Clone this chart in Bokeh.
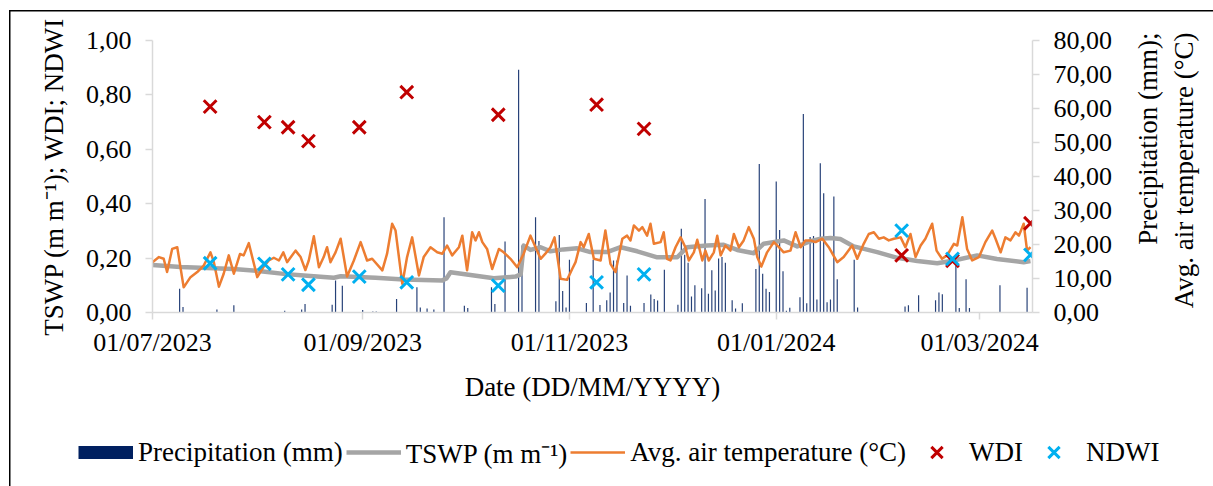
import datetime as dt
from bokeh.plotting import figure
from bokeh.layouts import column, row
from bokeh.models import (Range1d, LinearAxis, FixedTicker, CustomJSTickFormatter,
                          DatetimeTickFormatter, Legend, LegendItem, Label)
from bokeh.embed import file_html
from bokeh.resources import INLINE

START = dt.datetime(2023, 7, 1)

# ---------------- data (day offsets from 01/07/2023) ----------------
x_tick_labels = ["01/07/2023", "01/09/2023", "01/11/2023", "01/01/2024", "01/03/2024"]
left_ticks = [0.0, 0.2, 0.4, 0.6, 0.8, 1.0]
right_ticks = [0, 10, 20, 30, 40, 50, 60, 70, 80]

precip_day = [8, 9, 19, 24, 39, 44, 45, 53, 54, 56, 62, 65, 66, 72, 78, 79, 81, 83, 86,
              92, 93, 100, 101, 104, 108, 109, 113, 114, 119, 120, 121, 122, 123, 128,
              130, 132, 134, 135, 136, 137, 139, 140, 141, 145, 147, 148, 149, 151, 155,
              156, 157, 158, 159, 160, 162, 163, 164, 165, 166, 167, 168, 169, 171, 172,
              174, 178, 179, 180, 181, 182, 184, 185, 186, 187, 188, 191, 192, 193, 194,
              195, 196, 197, 198, 199, 200, 201, 202, 207, 208, 222, 223, 226, 231, 232,
              233, 237, 238, 240, 241, 250, 258]
precip_mm = [7.0, 1.6, 0.9, 2.1, 0.5, 0.9, 2.5, 2.3, 9.4, 7.9, 0.7, 0.3, 0.3, 4.0, 7.4,
             1.5, 1.2, 0.9, 28.0, 2.0, 1.3, 7.4, 2.5, 20.9, 71.4, 19.7, 28.0, 21.0, 3.3,
             22.8, 6.3, 1.5, 15.5, 2.8, 15.5, 2.2, 3.6, 5.9, 15.3, 15.3, 2.8, 10.9, 2.0,
             2.8, 5.3, 4.0, 3.5, 12.6, 2.3, 24.6, 17.0, 14.6, 4.7, 8.0, 7.1, 33.4, 5.5,
             12.4, 6.5, 15.9, 16.3, 14.6, 3.6, 1.2, 2.7, 12.8, 43.7, 11.4, 7.0, 6.0, 38.5,
             24.3, 12.1, 0.5, 1.4, 4.5, 58.4, 2.7, 22.2, 22.5, 3.8, 43.9, 35.1, 3.0, 3.8,
             34.1, 9.8, 15.5, 1.5, 1.8, 2.1, 5.1, 3.6, 5.9, 5.4, 13.8, 1.3, 9.8, 1.3, 8.0, 7.3]

temp_day = [0.0, 1.9, 3.3, 4.3, 5.8, 7.3, 9.2, 11.2, 13.2, 15.1, 17.1, 18.1, 19.6, 21.0,
            22.5, 24.0, 25.8, 26.9, 28.4, 30.9, 32.8, 34.3, 35.8, 37.3, 38.6, 39.7, 42.2,
            43.7, 45.1, 46.1, 47.6, 49.1, 50.5, 51.5, 52.5, 54.0, 55.5, 57.4, 59.4, 61.4,
            63.3, 64.8,
            67.8, 69.2, 70.7, 71.7, 73.7, 75.1, 76.6, 78.6, 80.0, 82.0, 84.0, 85.5, 86.9,
            88.4, 90.4, 91.4, 92.8, 94.3, 95.3, 96.3, 97.3, 98.7, 100.2, 102.2, 103.6,
            105.6, 107.6, 109.5, 111.5, 113.0, 114.5, 115.9, 117.4, 118.6, 120.4, 122.3,
            123.8, 124.8, 126.3, 127.2, 128.7, 130.2,
            132.2, 133.6, 135.1, 136.6, 138.6, 140.0, 141.0, 142.0, 143.5, 144.5, 145.9,
            146.9, 147.9, 149.9, 150.8, 151.8, 152.8, 154.3, 155.8, 157.2, 158.2, 159.7,
            160.7, 162.2, 163.1, 164.1, 165.6, 166.6, 167.6, 169.0, 170.5, 171.5, 173.0,
            174.4, 175.9, 177.4, 178.4, 179.6, 181.3, 183.3, 184.8, 186.2, 188.2, 189.7,
            191.2, 192.6,
            194.1, 195.6, 197.6, 199.5, 202.0, 203.9, 206.4, 207.9, 209.8, 211.3, 212.8,
            214.3, 215.7, 217.2, 218.7, 220.7, 222.1, 223.6, 225.1, 226.6, 228.0, 230.0,
            231.3, 232.9, 234.4, 236.4, 237.4, 238.9, 240.3, 241.8, 243.8, 245.7, 247.7,
            248.7, 250.2, 251.6, 253.1, 254.6, 255.6, 257.0, 258.0, 259.0]
temp_c = [14.8, 16.3, 15.8, 11.9, 18.7, 19.2, 7.4, 10.4, 11.9, 13.8, 17.7, 14.8, 7.6, 11.4,
          16.8, 11.4, 17.2, 16.8, 20.4, 10.4, 13.5, 15.3, 16.1, 15.3, 17.7, 14.8, 18.2,
          16.3, 12.5, 15.3, 22.4, 13.3, 16.3, 19.2, 14.8, 17.7, 21.7, 10.6, 15.3, 20.7,
          15.3, 15.8,
          12.4, 17.3, 26.1, 24.1, 8.4, 16.3, 22.1, 10.9, 16.3, 19.2, 17.7, 17.3, 19.7,
          16.8, 19.2, 22.6, 12.4, 23.6, 21.2, 23.6, 20.7, 18.7, 12.8, 18.7, 17.7, 15.8,
          13.3, 17.3, 22.6, 19.2, 15.8, 17.3, 19.2, 22.1, 9.9, 9.6, 12.8, 14.8, 20.7,
          19.2, 23.1, 15.8,
          15.3, 24.1, 14.3, 11.9, 21.7, 22.6, 21.2, 25.6, 24.1, 25.1, 22.6, 26.1, 20.2,
          20.7, 23.6, 15.8, 15.3, 19.2, 22.1, 19.2, 15.3, 17.7, 21.4, 15.3, 18.2, 15.3,
          17.7, 22.6, 16.8, 19.7, 18.2, 23.1, 19.2, 21.2, 25.1, 21.7, 16.3, 13.5, 17.7,
          20.7, 19.2, 17.7, 18.2, 23.6, 19.2, 21.2,
          21.2, 20.7, 21.7, 19.2, 14.8, 16.3, 19.7, 15.8, 20.2, 23.1, 23.6, 21.7, 22.1,
          21.2, 21.7, 22.1, 19.2, 23.1, 16.3, 19.7, 21.7, 26.1, 18.2, 15.8, 16.8, 20.2,
          19.7, 28.0, 18.7, 15.3, 16.3, 20.7, 24.1, 21.7, 17.7, 22.1, 21.2, 23.6, 22.6,
          26.1, 18.2, 19.2]

tswp_day = [0, 8.3, 16.1, 23.9, 31.9, 38.7, 45.6, 53.5, 55.5, 62.3, 65.8, 74.1, 85.5,
            86.7, 87.9, 93.8, 100.7, 107.1, 108.6, 109.5, 111.5, 114.5, 117.4, 121.2,
            125.3, 129.2, 134.1, 138.1, 143.0, 148.9, 154.8, 157.7, 163.6, 168.5, 172.5,
            177.4, 180.3, 186.2, 190.2, 194.1, 197.1, 200.0, 202.9, 206.9, 213.8, 219.7,
            225.6, 231.5, 236.4, 243.3, 249.1, 257.0, 259.0]
tswp_val = [0.175, 0.167, 0.164, 0.160, 0.152, 0.142, 0.135, 0.128, 0.133, 0.130, 0.128,
            0.121, 0.118, 0.125, 0.148, 0.138, 0.126, 0.132, 0.140, 0.246, 0.230, 0.240,
            0.225, 0.232, 0.236, 0.222, 0.222, 0.240, 0.225, 0.203, 0.203, 0.240, 0.246,
            0.249, 0.230, 0.218, 0.253, 0.265, 0.243, 0.262, 0.271, 0.274, 0.270, 0.243,
            0.222, 0.201, 0.189, 0.181, 0.191, 0.210, 0.197, 0.185, 0.189]

obs_day = [17, 33, 40, 46, 61, 75, 102, 131, 145, 221, 236, 259]
wdi_val = [0.757, 0.700, 0.681, 0.630, 0.681, 0.810, 0.727, 0.764, 0.675, 0.210, 0.190, 0.328]
ndwi_val = [0.181, 0.179, 0.140, 0.102, 0.132, 0.111, 0.099, 0.111, 0.140, 0.301, 0.197, 0.212]

legend_labels = ["Precipitation (mm)", "TSWP (m m\u207b\u00b9)",
                 "Avg. air temperature (\u00b0C)", "WDI", "NDWI"]
right_title = "Precipitation (mm);\nAvg. air temperature (\u00b0C)"


def to_dt(days):
    return [START + dt.timedelta(days=float(d)) for d in days]


FONT = "Liberation Serif"
NAVY, GRAY, ORANGE, RED, CYAN = "#002060", "#a5a5a5", "#ed7d31", "#c00000", "#00b0f0"
LINE_BG = "linear-gradient(#000000, #000000)"
NO_BORDER = dict(min_border=0, min_border_left=0, min_border_right=0,
                 min_border_top=0, min_border_bottom=0)

# ---------------- main chart ----------------
p = figure(width=1125, height=420, x_axis_type="datetime",
           x_range=Range1d(START, START + dt.timedelta(days=259.6)),
           y_range=Range1d(0, 1), output_backend="svg", toolbar_location=None,
           min_border_left=152, min_border_right=93, min_border_top=40,
           min_border_bottom=108)
p.outline_line_color = None
p.xgrid.visible = False
p.ygrid.visible = False
p.background_fill_color = "#ffffff"
p.border_fill_alpha = 0
p.styles = {
    "background-color": "#ffffff",
    "background-image": LINE_BG + ", " + LINE_BG,
    "background-size": "1.5px 100%, 100% 1.5px",
    "background-position": "9px 10px, 9px 10px",
    "background-repeat": "no-repeat",
}
p.extra_y_ranges = {"right": Range1d(0, 80)}

ly = p.yaxis[0]
ly.ticker = FixedTicker(ticks=left_ticks)
ly.formatter = CustomJSTickFormatter(code="return tick.toFixed(2).replace('.', ',');")
ly.axis_label = "TSWP (m m\u207b\u00b9); WDI; NDWI"

bx = p.xaxis[0]
bx.ticker = FixedTicker(ticks=[dt.datetime.strptime(s, "%d/%m/%Y").timestamp() * 1000
                               for s in x_tick_labels])
fmt = "%d/%m/%Y"
bx.formatter = DatetimeTickFormatter(milliseconds=fmt, seconds=fmt, minsec=fmt, minutes=fmt,
                                     hourmin=fmt, hours=fmt, days=fmt, months=fmt, years=fmt)
bx.axis_label = "Date (DD/MM/YYYY)"

ry = LinearAxis(y_range_name="right", ticker=FixedTicker(ticks=right_ticks),
                formatter=CustomJSTickFormatter(code="return tick.toFixed(2).replace('.', ',');"))
p.add_layout(ry, "right")

for ax in (ly, bx, ry):
    ax.axis_line_color = "#d9d9d9"
    ax.axis_line_width = 1.5
    ax.major_tick_line_color = "#d9d9d9"
    ax.major_tick_line_width = 1.5
    ax.major_tick_in = 0
    ax.major_tick_out = 7
    ax.minor_tick_line_color = None
    ax.major_label_text_font = FONT
    ax.major_label_text_font_size = "26px"
    ax.major_label_text_color = "#000000"
    ax.axis_label_text_font = FONT
    ax.axis_label_text_font_size = "27px"
    ax.axis_label_text_font_style = "normal"
    ax.axis_label_text_color = "#000000"

ly.major_label_standoff = 14
ly.axis_label_standoff = 14
ry.major_label_standoff = 14
bx.major_label_standoff = 8
bx.axis_label_standoff = 12

p.vbar(x=to_dt(precip_day), top=precip_mm, width=0.35 * 86400000,
       y_range_name="right", fill_color=NAVY, line_color=None, fill_alpha=0.85)
p.line(x=to_dt(tswp_day), y=tswp_val, line_color=GRAY, line_width=4.5, line_join="round")
p.line(x=to_dt(temp_day), y=temp_c, y_range_name="right", line_color=ORANGE,
       line_width=2.5, line_join="round")
p.scatter(x=to_dt(obs_day), y=wdi_val, marker="x", size=18, line_width=3, line_color=RED)
p.scatter(x=to_dt(obs_day), y=ndwi_val, marker="x", size=18, line_width=3, line_color=CYAN)

# ---------------- right-axis title strip ----------------
rt = figure(width=88, height=420, output_backend="svg", toolbar_location=None,
            x_range=Range1d(0, 88), y_range=Range1d(0, 420),
            x_axis_location=None, y_axis_location=None, **NO_BORDER)
rt.outline_line_color = None
rt.xgrid.visible = False
rt.ygrid.visible = False
rt.background_fill_alpha = 0
rt.border_fill_alpha = 0
rt.styles = {
    "background-color": "#ffffff",
    "background-image": LINE_BG,
    "background-size": "100% 1.5px",
    "background-position": "0px 10px",
    "background-repeat": "no-repeat",
}
rt.add_layout(Label(x=40.5, y=388, text=right_title, angle=90, angle_units="deg",
                    text_align="right", text_baseline="middle", text_font=FONT,
                    text_font_size="27px", text_color="#000000"))

# ---------------- legend strip ----------------
lg = figure(width=1213, height=66, output_backend="svg", toolbar_location=None,
            x_range=Range1d(0, 1), y_range=Range1d(0, 1),
            x_axis_location=None, y_axis_location=None, **NO_BORDER)
lg.outline_line_color = None
lg.xgrid.visible = False
lg.ygrid.visible = False
lg.background_fill_alpha = 0
lg.border_fill_alpha = 0
lg.styles = {
    "background-color": "#ffffff",
    "background-image": LINE_BG,
    "background-size": "1.5px 100%",
    "background-position": "9px 0px",
    "background-repeat": "no-repeat",
}
# legend keys: placed outside the visible range of the strip
k_pr = lg.line(x=[-1, -2], y=[-1, -1], line_color=NAVY, line_width=13, line_cap="butt")
k_ts = lg.line(x=[-1, -2], y=[-1, -1], line_color=GRAY, line_width=4.5)
k_te = lg.line(x=[-1, -2], y=[-1, -1], line_color=ORANGE, line_width=2.5)
k_wd = lg.scatter(x=[-1], y=[-1], marker="x", line_width=3, line_color=RED)
k_nd = lg.scatter(x=[-1], y=[-1], marker="x", line_width=3, line_color=CYAN)

legend = Legend(items=[LegendItem(label=lab, renderers=[r]) for lab, r in
                       zip(legend_labels, [k_pr, k_ts, k_te, k_wd, k_nd])],
                location=(78, 14), orientation="horizontal",
                glyph_width=55, glyph_height=40, label_standoff=5, spacing=3,
                padding=0, margin=0, border_line_color=None, background_fill_alpha=0,
                label_text_font=FONT, label_text_font_size="27px",
                label_text_color="#000000")
lg.add_layout(legend)

layout = column(row(p, column(rt), spacing=0), row(lg, spacing=0), spacing=0)
open("out.html", "w").write(file_html(layout, INLINE))
